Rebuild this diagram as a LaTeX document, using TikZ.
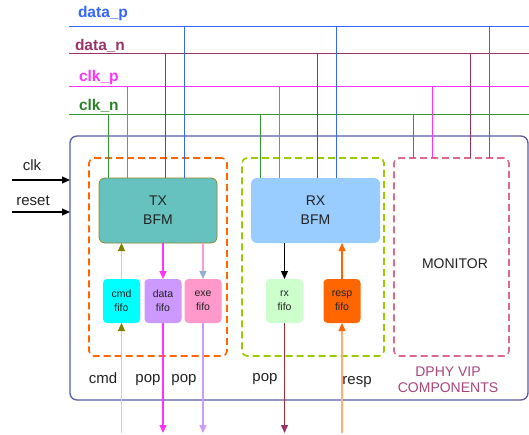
\documentclass[tikz,border=0pt]{standalone}
\usepackage{fontspec}
\setmainfont{Liberation Sans}
\usetikzlibrary{arrows.meta}
\definecolor{cdatap}{HTML}{3366FF}
\definecolor{cdatan}{HTML}{993366}
\definecolor{cclkp}{HTML}{FF33FF}
\definecolor{cclkn}{HTML}{339933}
\definecolor{cvip}{HTML}{5A5AAA}
\definecolor{ctx}{HTML}{66C2BF}
\definecolor{ctxline}{HTML}{8A8A30}
\definecolor{crx}{HTML}{99CCFF}
\definecolor{corange}{HTML}{FF6600}
\definecolor{cgreen}{HTML}{99CC00}
\definecolor{cpink}{HTML}{DD6A8C}
\definecolor{ccomp}{HTML}{AA4477}
\definecolor{ccmd}{HTML}{00FFFF}
\definecolor{cdata}{HTML}{CC99FF}
\definecolor{cexe}{HTML}{FF99CC}
\definecolor{crxf}{HTML}{CCFFCC}
\definecolor{ccmdline}{HTML}{C8DC8C}
\definecolor{colive}{HTML}{808000}
\definecolor{cexeline}{HTML}{FF99DD}
\definecolor{cexehead}{HTML}{8FAFCF}
\definecolor{cbrown}{HTML}{993333}
\definecolor{clorange}{HTML}{FFAA77}
\definecolor{ctext}{HTML}{222222}
\begin{document}
\begin{tikzpicture}[x=1pt,y=-1pt,
        every node/.style={outer sep=0pt,text=ctext},
        datap/.style={draw=cdatap,line width=1pt},
        datan/.style={draw=cdatan,line width=1pt},
        clkp/.style={draw=cclkp,line width=1pt},
        clkn/.style={draw=cclkn,line width=1pt},
        buslabel/.style={anchor=base west,inner sep=0pt,font=\bfseries\fontsize{15.5}{18}\selectfont},
        group/.style={draw=#1,line width=1.6pt,dash pattern=on 7pt off 4pt,rounded corners=5pt,minimum height=198pt,inner sep=0pt},
        bfm/.style={fill=#1,rounded corners=6pt,minimum width=118pt,minimum height=65pt,align=center,font=\fontsize{14}{19}\selectfont},
        fifo/.style={fill=#1,rounded corners=4pt,minimum width=37pt,minimum height=44pt,inner sep=0pt,align=center,font=\fontsize{10.5}{14}\selectfont},
        txt/.style={font=\fontsize{15}{18}\selectfont,anchor=base},
        link/.style={line width=1.1pt,draw=#1},
        head/.style={-{Triangle[length=8pt,width=7pt,color=#1]}}]
        \useasboundingbox (0,0) rectangle (529,434);
        \coordinate (busdatap) at (69,26);
        \coordinate (busdatan) at (69,53);
        \coordinate (busclkp) at (69,86);
        \coordinate (busclkn) at (69,114);
        \foreach \s in {datap,datan,clkp,clkn}
                \draw[\s] (bus\s) -- ++(460,0);
        \node[buslabel,text=cdatap] (ldatap) at (78,17) {data\_p};
        \node[buslabel,text=cdatan] (ldatan) at (75,50) {data\_n};
        \node[buslabel,text=cclkp] (lclkp) at (79,81) {clk\_p};
        \node[buslabel,text=cclkn!85!black] (lclkn) at (79,110) {clk\_n};

        \node[draw=cvip,line width=1.3pt,rounded corners=7pt,minimum width=458pt,minimum height=264pt,inner sep=0pt] (vip) at (299,268) {};
        \node[group=corange,minimum width=138pt] (txgroup) at (158,257) {};
        \node[group=cgreen,minimum width=142pt] (rxgroup) at (313,257) {};
        \node[group=cpink,minimum width=115pt] (monitor) at (451.5,257) {};
        \node[font=\fontsize{14}{17}\selectfont] (montext) at (455,264) {MONITOR};

        \node[bfm=ctx,draw=ctxline,line width=0.8pt] (txbfm) at (158,210.5) {TX\\BFM};
        \node[bfm=crx,minimum width=129pt] (rxbfm) at (315.5,210.5) {RX\\BFM};
        \foreach \s/\d in {clkn/9,clkp/28,datan/66,datap/85}
        {
                \draw[\s] ([xshift=\d]txbfm.north west) coordinate (d) -- (d |- bus\s);
                \draw[\s] ([xshift=\d]rxbfm.north west) coordinate (d) -- (d |- bus\s);
                \draw[\s] ([xshift=\d+10]monitor.north west) coordinate (d) -- (d |- bus\s);
        }

        \node[fifo=ccmd] (cmdfifo) at (121.5,301) {cmd\\fifo};
        \node[fifo=cdata] (datafifo) at (163,301) {data\\fifo};
        \node[fifo=cexe] (exefifo) at (203,301) {exe\\fifo};
        \node[fifo=crxf] (rxfifo) at (284.5,301) {rx\\fifo};
        \node[fifo=corange] (respfifo) at (342,301) {resp\\fifo};

        \coordinate (bot) at (0,433);
        \draw[link=ccmdline,head=colive] (cmdfifo.north) -- (cmdfifo.north |- txbfm.south);
        \draw[link=ccmdline,head=colive] (cmdfifo.south |- bot) -- (cmdfifo.south);
        \draw[link=cclkp,head=cclkp] (datafifo.north |- txbfm.south) -- (datafifo.north);
        \draw[link=cclkp,head=cclkp] (datafifo.south) -- (datafifo.south |- bot);
        \draw[link=cexeline,head=cexehead] (exefifo.north |- txbfm.south) -- (exefifo.north);
        \draw[link=cdata,head=cdata] (exefifo.south) -- (exefifo.south |- bot);
        \draw[link=black,head=black] (rxfifo.north |- rxbfm.south) -- (rxfifo.north);
        \draw[link=cbrown,head=cdatan] (rxfifo.south) -- (rxfifo.south |- bot);
        \draw[link=corange,head=corange] (respfifo.north) -- (respfifo.north |- rxbfm.south);
        \draw[link=clorange,head=corange] (respfifo.south |- bot) -- (respfifo.south);

        \coordinate (clkin) at (12,180);
        \coordinate (rstin) at (12,212);
        \draw[link=black,head=black] (clkin) -- (clkin -| vip.west);
        \draw[link=black,head=black] (rstin) -- (rstin -| vip.west);
        \node[txt] (lclk) at (32,170) {clk};
        \node[txt] (lrst) at (33,205) {reset};

        \node[txt] (lcmd) at (103,383) {cmd};
        \node[txt] (lpop1) at (148,382) {pop};
        \node[txt] (lpop2) at (184,382) {pop};
        \node[txt] (lpop3) at (265,381) {pop};
        \node[txt] (lresp) at (357,384) {resp};
        \node[font=\fontsize{14}{16}\selectfont,text=ccomp,align=center] (lcomp) at (448,380) {DPHY VIP\\COMPONENTS};
\end{tikzpicture}
\end{document}
